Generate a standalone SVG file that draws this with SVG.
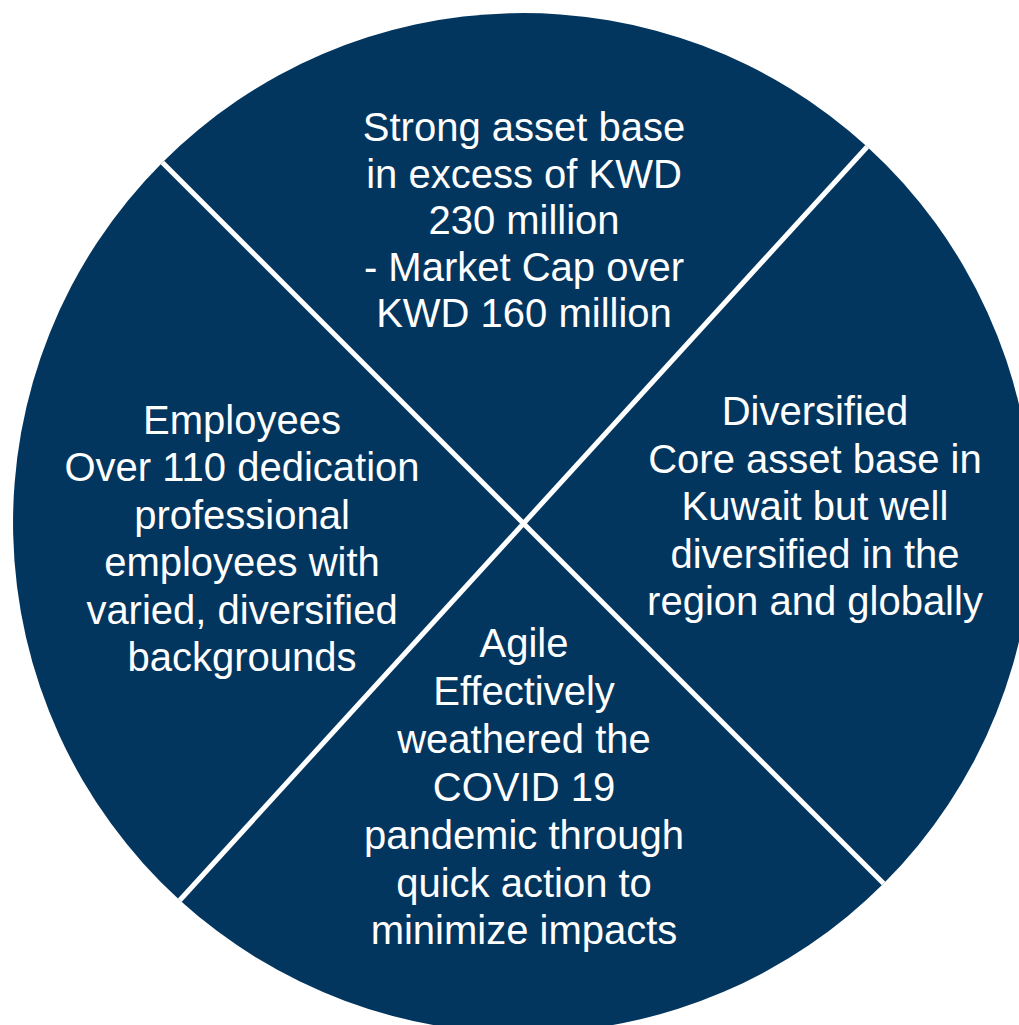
<svg xmlns="http://www.w3.org/2000/svg" width="1019" height="1025" viewBox="0 0 1019 1025">
<style>
.seg{fill:#03365f;}
.t{font-family:"Liberation Sans",Arial,Helvetica,sans-serif;font-size:40px;fill:#ffffff;text-anchor:middle;}
.div{stroke:#ffffff;stroke-width:5;fill:none;}
</style>
<rect width="1019" height="1025" fill="#ffffff"/>
<g id="node-top">
<path class="seg" d="M523,523 L162.4,162.4 A510,510 0 0 1 867.2,146.7 Z"/>
<text class="t" x="524" y="141">Strong asset base</text>
<text class="t" x="524" y="187.5">in excess of KWD</text>
<text class="t" x="524" y="234">230 million</text>
<text class="t" x="524" y="280.5">- Market Cap over</text>
<text class="t" x="524" y="327">KWD 160 million</text>
</g>
<g id="node-right">
<path class="seg" d="M523,523 L867.2,146.7 A510,510 0 0 1 883.6,883.6 Z"/>
<text class="t" x="815" y="425">Diversified</text>
<text class="t" x="815" y="472.5">Core asset base in</text>
<text class="t" x="815" y="520">Kuwait but well</text>
<text class="t" x="815" y="567.5">diversified in the</text>
<text class="t" x="815" y="615">region and globally</text>
</g>
<g id="node-bottom">
<path class="seg" d="M523,523 L883.6,883.6 A510,510 0 0 1 179.8,900.2 Z"/>
<text class="t" x="524" y="657">Agile</text>
<text class="t" x="524" y="705">Effectively</text>
<text class="t" x="524" y="753">weathered the</text>
<text class="t" x="524" y="801">COVID 19</text>
<text class="t" x="524" y="849">pandemic through</text>
<text class="t" x="524" y="896.5">quick action to</text>
<text class="t" x="524" y="944">minimize impacts</text>
</g>
<g id="node-left">
<path class="seg" d="M523,523 L179.8,900.2 A510,510 0 0 1 162.4,162.4 Z"/>
<text class="t" x="242" y="433.5">Employees</text>
<text class="t" x="242" y="481">Over 110 dedication</text>
<text class="t" x="242" y="528.5">professional</text>
<text class="t" x="242" y="576">employees with</text>
<text class="t" x="242" y="623.5">varied, diversified</text>
<text class="t" x="242" y="671">backgrounds</text>
</g>
<g id="connectors">
<line class="div" x1="162.4" y1="162.4" x2="883.6" y2="883.6"/>
<line class="div" x1="867.2" y1="146.7" x2="179.8" y2="900.2"/>
</g>
</svg>
